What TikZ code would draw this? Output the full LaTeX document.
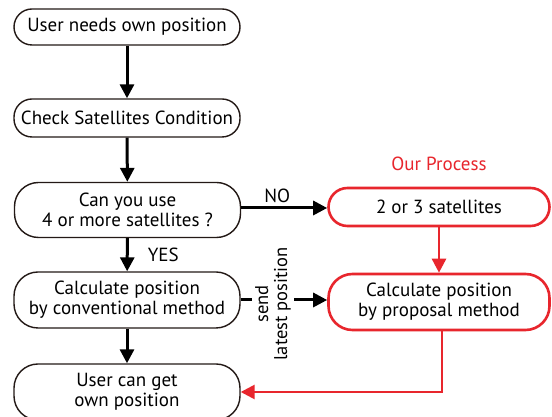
\documentclass[tikz,border=0pt]{standalone}
\usepackage{fontspec}
\setmainfont{PT Sans}
\usetikzlibrary{arrows.meta}
\definecolor{ored}{RGB}{232,38,45}
\definecolor{oline}{RGB}{35,25,22}
\tikzset{
  box/.style={draw=oline, line width=1.4pt, rounded corners=18pt, align=center,
    minimum width=226pt, inner sep=2pt, font=\fontsize{19}{20}\selectfont},
  rbox/.style={draw=ored, line width=2.6pt, rounded corners=19pt, align=center,
    minimum width=221pt, inner sep=2pt, font=\fontsize{19}{20}\selectfont},
  arr/.style={line width=3pt, -{Triangle[length=14pt,width=14pt]}},
  rarr/.style={draw=ored, line width=2.6pt, -{Triangle[length=14pt,width=14pt]}, color=ored},
  lbl/.style={font=\fontsize{19}{20}\selectfont, inner sep=1pt}
}
\begin{document}
\begin{tikzpicture}[x=1pt,y=1pt]
\useasboundingbox (0,0) rectangle (552,417);
\clip (0,0) rectangle (552,417);
\fill[white] (0,0) rectangle (552,417);
\node[box, minimum height=36pt] (b1) at (127,390) {User needs own position};
\node[box, minimum height=38pt] (b2) at (127,299) {Check Satellites Condition};
\node[box, minimum height=55pt, rounded corners=24pt] (b3) at (127.5,207) {Can you use\\4 or more satellites ?};
\node[box, minimum height=56pt, rounded corners=24pt] (b4) at (127,117) {Calculate position\\by conventional method};
\node[box, minimum height=56pt, rounded corners=24pt] (b5) at (127,25) {User can get\\own position};
\node[rbox, minimum height=38pt] (r1) at (439,210) {2 or 3 satellites};
\node[rbox, minimum height=56pt, rounded corners=24pt] (r2) at (439,115) {Calculate position\\by proposal method};
\node[lbl, text=ored] (op) at (439,253) {Our Process};
\draw[arr] (b1) -- (b2);
\draw[arr] (b2) -- (b3);
\draw[arr] (b3) -- node[lbl, right=18pt] (yes) {YES} (b4);
\draw[arr] (b4) -- (b5);
\draw[arr] (b3.east |- 0,209) -- node[lbl, above=3pt, xshift=-7pt] (no) {NO} (r1.west |- 0,209);
\draw[arr] (b4.east) -- (b4.east -| r2.west);
\node[lbl, rotate=90, fill=white, align=center, inner sep=3pt, font=\fontsize{18.5}{19}\selectfont] (snd) at (273,113) {send\\latest position};
\draw[rarr] (r1) -- (r2);
\draw[rarr] (r2.south -| 442,0) |- (b5.east);
\end{tikzpicture}
\end{document}
